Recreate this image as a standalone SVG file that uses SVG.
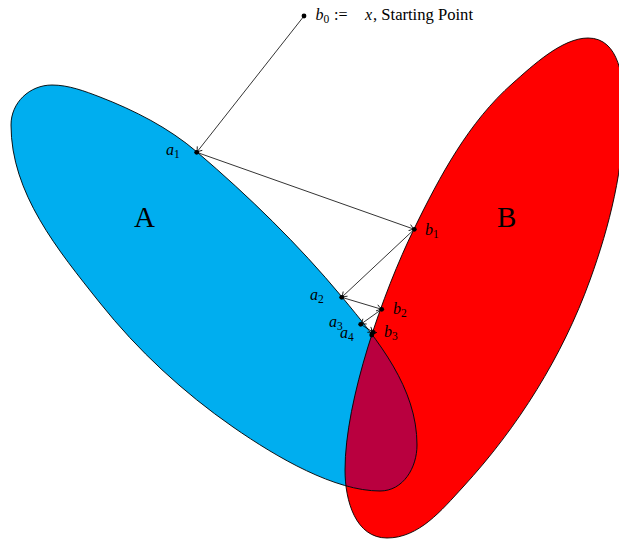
<svg xmlns="http://www.w3.org/2000/svg" width="619" height="540" viewBox="0 0 619 540">
<style>
.outline{fill:none;stroke:#000;stroke-width:0.9;}
.conn{stroke:#000;stroke-width:0.8;fill:none;marker-end:url(#arr);}
.dot{fill:#000;}
.lbl{font-family:"Liberation Serif","Times New Roman",serif;font-size:16px;font-style:italic;fill:#000;}
.sub{font-style:normal;font-size:11.5px;}
.up{font-style:normal;}
.big{font-family:"Liberation Serif","Times New Roman",serif;font-size:29px;fill:#000;}
</style>
<defs>
<path id="pA" d="M11,125 C11,102.6 29.6,85 52,85 C68.5,85 84.7,91.1 100,97 C134.4,110.3 168.9,127.9 197,152 C248.7,196.2 298.5,244.6 342,297 C378.5,340.9 417,388 417,445 C417,468 403,491 380,491 C335,491 277.9,458.2 233,427 C183.3,392.5 137.6,350.3 100,303 C57.7,249.8 11,193.2 11,125 Z"/>
<path id="pB" d="M588,38 C619.4,38 624,78.6 624,110 C624,167.8 609.7,225.7 590,280 C562.5,356.1 518.1,427.1 463,487 C441.4,510.5 418.8,538 387,538 C355.8,538 345,501.2 345,470 C345,400 383.2,292 414,229 C440,175.9 468.7,121.9 513,83 C532.5,65.8 562,38 588,38 Z"/>
<clipPath id="clipB"><use href="#pB"/></clipPath>
<marker id="arr" viewBox="-6 -4 7 8" refX="0" refY="0" markerWidth="7" markerHeight="8" markerUnits="userSpaceOnUse" orient="auto">
<path d="M-5,-3.2 Q-2,-0.7 0,0 Q-2,0.7 -5,3.2" fill="none" stroke="#000" stroke-width="0.8"/>
</marker>
</defs>

<g id="setB">
<use href="#pB" fill="#FF0000"/>
<text class="big" x="497" y="227">B</text>
</g>
<g id="setA">
<use href="#pA" fill="#00AEEF"/>
<text class="big" x="134" y="227">A</text>
</g>
<g id="intersection">
<use href="#pA" fill="#B9003F" clip-path="url(#clipB)"/>
<use href="#pB" class="outline"/>
<use href="#pA" class="outline"/>
</g>

<g id="connectors">
<line class="conn" x1="304" y1="16" x2="196.7" y2="152.3"/>
<line class="conn" x1="196.7" y1="152.3" x2="414.3" y2="229.3"/>
<line class="conn" x1="414.3" y1="229.3" x2="341.7" y2="297.3"/>
<line class="conn" x1="341.7" y1="297.3" x2="381.7" y2="309.3"/>
<line class="conn" x1="381.7" y1="309.3" x2="360.7" y2="324.3"/>
<line class="conn" x1="360.7" y1="324.3" x2="373.3" y2="332.3"/>
<line class="conn" x1="373.3" y1="332.3" x2="371.7" y2="335"/>
</g>

<g id="b0">
<circle class="dot" cx="304" cy="16" r="2.4"/>
<text class="lbl" x="315.5" y="20">b<tspan class="sub" dy="3">0</tspan></text>
<text class="lbl up" x="334" y="20">:=</text>
<text class="lbl" x="365" y="20">x</text>
<text class="lbl up" x="373" y="20" textLength="100" lengthAdjust="spacingAndGlyphs">, Starting Point</text>
</g>
<g id="a1">
<circle class="dot" cx="196.7" cy="152.3" r="2.4"/>
<text class="lbl" x="166" y="155">a<tspan class="sub" dy="3">1</tspan></text>
</g>
<g id="b1">
<circle class="dot" cx="414.3" cy="229.3" r="2.4"/>
<text class="lbl" x="425" y="235">b<tspan class="sub" dy="3">1</tspan></text>
</g>
<g id="a2">
<circle class="dot" cx="341.7" cy="297.3" r="2.4"/>
<text class="lbl" x="310" y="300">a<tspan class="sub" dy="3">2</tspan></text>
</g>
<g id="b2">
<circle class="dot" cx="381.7" cy="309.3" r="2.4"/>
<text class="lbl" x="393" y="314">b<tspan class="sub" dy="3">2</tspan></text>
</g>
<g id="a3">
<circle class="dot" cx="360.7" cy="324.3" r="2.4"/>
<text class="lbl" x="329" y="327">a<tspan class="sub" dy="3">3</tspan></text>
</g>
<g id="b3">
<circle class="dot" cx="373.3" cy="332.3" r="2.4"/>
<text class="lbl" x="384" y="337">b<tspan class="sub" dy="3">3</tspan></text>
</g>
<g id="a4">
<circle class="dot" cx="371.7" cy="335" r="2.4"/>
<text class="lbl" x="340" y="338">a<tspan class="sub" dy="3">4</tspan></text>
</g>
</svg>
